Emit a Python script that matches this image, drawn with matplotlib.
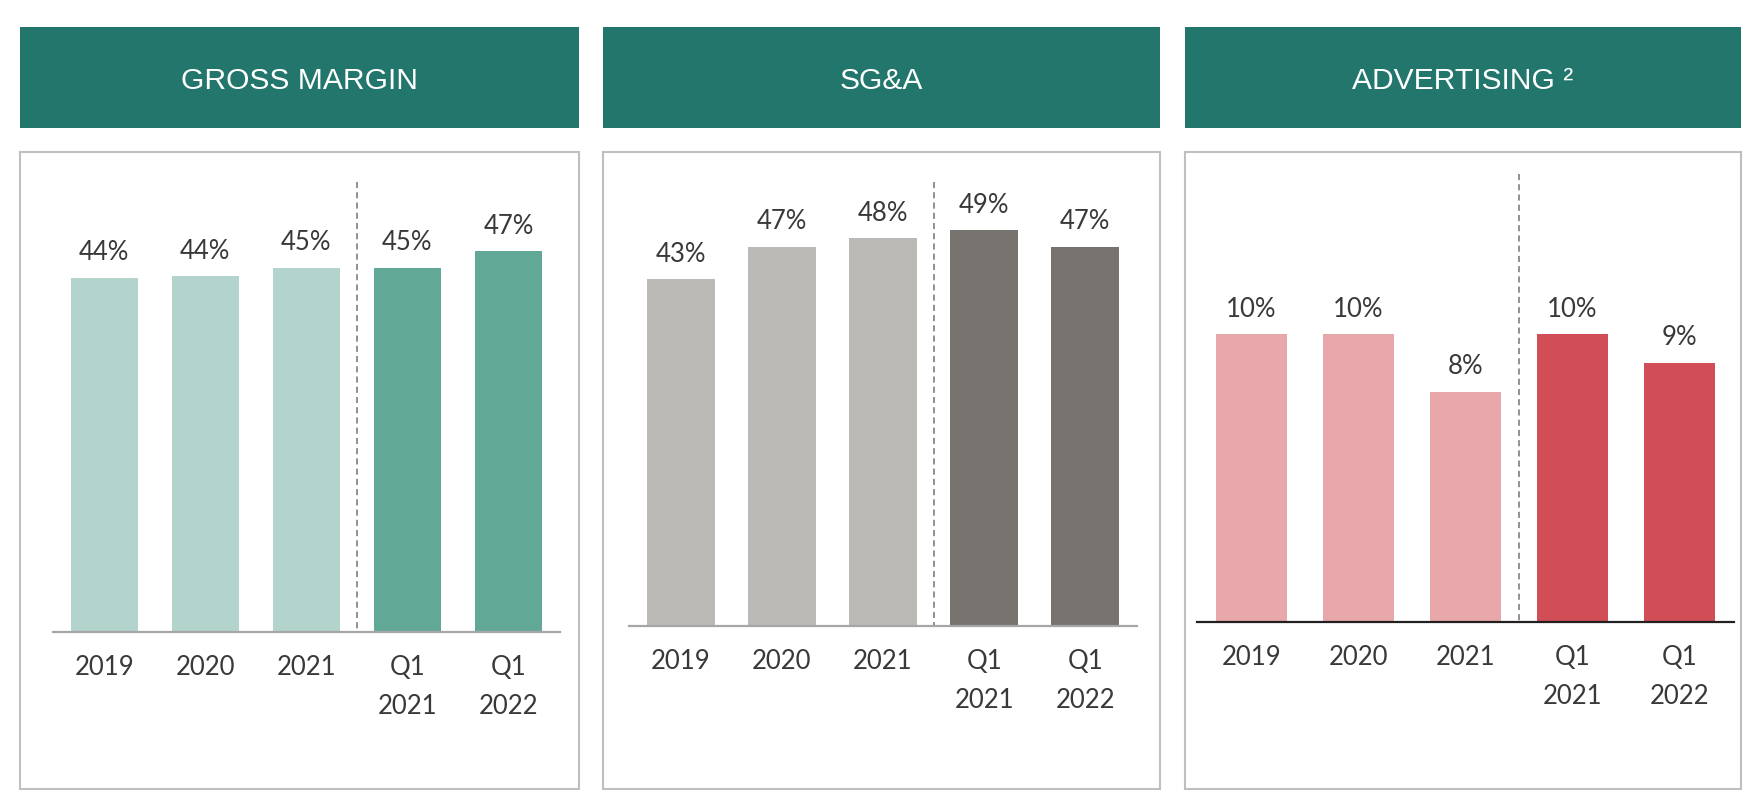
import matplotlib.pyplot as plt
from matplotlib.patches import Rectangle

W, H = 1758, 810

categories = ["2019", "2020", "2021", "Q1\n2021", "Q1\n2022"]
n_annual = 3  # first three are full years, the rest are quarters

gross_margin = [44.0, 44.2, 45.2, 45.2, 47.3]
sga = [43.1, 47.1, 48.2, 49.2, 47.1]
advertising = [10.0, 10.0, 8.0, 10.0, 9.0]

titles = ["GROSS MARGIN", "SG&A", "ADVERTISING ²"]
light_colors = ["#B2D4CC", "#BBB9B6", "#E8A7AA"]
dark_colors = ["#62A896", "#76726E", "#D14E56"]

HEADER = "#22766C"
TEXT = "#3B3838"
FRAME = "#BFBFBF"

plt.rcParams['font.family'] = ['Lato', 'DejaVu Sans']


def px(x0, y0, x1, y1):
    # pixel box (origin top-left) -> figure fraction [l, b, w, h]
    return [x0 / W, 1 - y1 / H, (x1 - x0) / W, (y1 - y0) / H]


fig = plt.figure(figsize=(W / 100, H / 100), dpi=100)

# panel frame edges in pixels
panels = [(20, 579), (603, 1160), (1185, 1741)]
# baseline x0, x1, baseline y, px per percent, dash top, baseline colour
axes_spec = [
    (52.8, 560, 631.7, 8.05, 182, "#A6A6A6"),
    (629.3, 1136.8, 626, 8.05, 182, "#A6A6A6"),
    (1197, 1734, 621.7, 28.77, 174, "#231F20"),
]
series = [gross_margin, sga, advertising]
AX_TOP = 160

for k in range(3):
    left, right = panels[k]

    # green header bar
    fig.add_artist(Rectangle(px(left, 26.7, right, 127.7)[:2],
                             (right - left) / W, 101 / H,
                             transform=fig.transFigure, facecolor=HEADER,
                             edgecolor="none"))
    fig.text((left + right) / 2 / W, 1 - 89.3 / H, titles[k], ha="center",
             va="baseline", color="white", fontsize=21.6,
             family=["Liberation Sans", "DejaVu Sans"])

    # grey frame round the chart
    fig.add_artist(Rectangle(px(left, 152, right, 789)[:2],
                             (right - left) / W, 637 / H,
                             transform=fig.transFigure, facecolor="none",
                             edgecolor=FRAME, lw=1.5))

    x0, x1, base, scale, dash_top, base_col = axes_spec[k]
    ax = fig.add_axes(px(x0, AX_TOP, x1, base))
    ax.patch.set_alpha(0)
    vals = series[k]
    cols = [light_colors[k]] * n_annual + [dark_colors[k]] * (len(vals) - n_annual)
    ax.bar(range(len(vals)), vals, width=0.668, color=cols)

    for i, v in enumerate(vals):
        ax.annotate("{:.0f}%".format(v), (i, v), xytext=(0, 12.5),
                    textcoords="offset points", ha="center", va="baseline",
                    fontsize=18.5, color=TEXT)

    ax.set_xlim(-0.51, len(vals) - 0.49)
    ax.set_ylim(0, (base - AX_TOP) / scale)
    ax.axvline(n_annual - 0.5, ymin=(base - dash_top) / (base - AX_TOP), ymax=0,
               color="#767171", lw=1.1, dashes=(4, 2.7))

    ax.set_xticks(range(len(vals)))
    ax.set_xticklabels(categories, fontsize=18.5, color=TEXT, linespacing=1.7)
    ax.tick_params(axis="x", length=0, pad=16.5)
    ax.set_yticks([])
    for s in ["top", "left", "right"]:
        ax.spines[s].set_visible(False)
    ax.spines["bottom"].set_color(base_col)
    ax.spines["bottom"].set_linewidth(1.6)

fig.savefig("out.png", dpi=100)
